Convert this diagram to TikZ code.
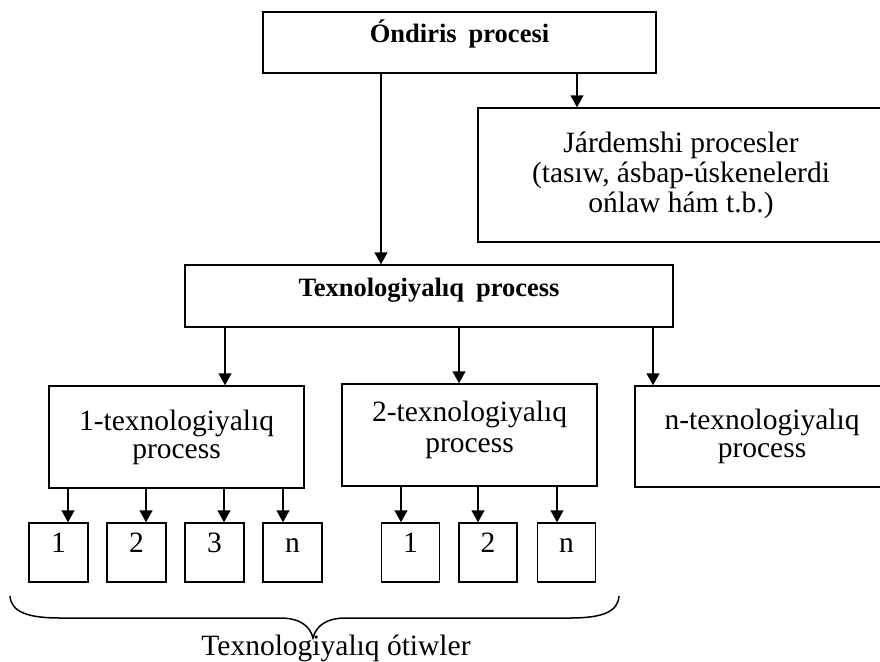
\documentclass[tikz,border=0pt]{standalone}
\usepackage{fontspec}
\setmainfont{Liberation Serif}
\usetikzlibrary{arrows.meta}
\tikzset{
  box/.style={draw, line width=1.5pt, rectangle, inner sep=0pt},
  bt/.style={font=\fontsize{26.5}{28}\selectfont\bfseries, text height=12pt, text depth=12pt},
  rt/.style={font=\fontsize{29.5}{29}\selectfont, align=center},
  nt/.style={font=\fontsize{29.5}{29}\selectfont, text height=10pt, text depth=10pt},
  arr/.style={line width=1.5pt, -{Triangle[length=12pt,width=13pt]}},
  brc/.style={line width=1.5pt}
}
\begin{document}
\begin{tikzpicture}[x=1pt,y=-1pt]
\useasboundingbox (0,0) rectangle (880,661);
% main boxes
\node[box, bt, minimum width=393pt, minimum height=61pt] (top) at (459.5,42.5) {Óndiris\hspace{12pt}procesi};
\node[box, rt, minimum width=406pt, minimum height=134pt, font=\fontsize{29.5}{30}\selectfont] (jard) at (681,175)
  {Járdemshi procesler\\(tasıw, ásbap-úskenelerdi\\ońlaw hám t.b.)};
\node[box, bt, minimum width=488pt, minimum height=62pt] (tech) at (429,296) {Texnologiyalıq\hspace{12pt}process};
\node[box, rt, minimum width=255pt, minimum height=102pt, font=\fontsize{29.5}{28}\selectfont] (p1) at (176.5,437) {1-texnologiyalıq\\process};
\node[box, rt, minimum width=255pt, minimum height=102pt, font=\fontsize{29.5}{31}\selectfont, text depth=17pt] (p2) at (469.5,435) {2-texnologiyalıq\\process};
\node[box, rt, minimum width=254pt, minimum height=101pt, font=\fontsize{29.5}{28}\selectfont] (pn) at (762,436.5) {n-texnologiyalıq\\process};
% small boxes
\node[box, nt, minimum width=59pt, minimum height=59pt] (s11) at (58.5,552.5) {1};
\node[box, nt, minimum width=59pt, minimum height=59pt] (s12) at (136.5,552.5) {2};
\node[box, nt, minimum width=59pt, minimum height=59pt] (s13) at (214.5,552.5) {3};
\node[box, nt, minimum width=59pt, minimum height=59pt] (s14) at (292.5,552.5) {n};
\node[box, nt, minimum width=58pt, minimum height=59pt] (s21) at (410.5,552.5) {1};
\node[box, nt, minimum width=58pt, minimum height=59pt] (s22) at (488,552.5) {2};
\node[box, nt, minimum width=58pt, minimum height=59pt] (s23) at (566.5,552.5) {n};
% connector x positions
\coordinate (xa) at (381,0);
\coordinate (xb) at (577,0);
\coordinate (xc) at (225,0);
\coordinate (xd) at (459,0);
\coordinate (xe) at (653,0);
\coordinate (x11) at (68,0);
\coordinate (x12) at (146,0);
\coordinate (x13) at (224,0);
\coordinate (x14) at (283,0);
\coordinate (x21) at (401,0);
\coordinate (x22) at (478,0);
\coordinate (x23) at (557,0);
% connectors
\draw[arr] (top.south -| xa) -- (tech.north -| xa);
\draw[arr] (top.south -| xb) -- (jard.north -| xb);
\draw[arr] (tech.south -| xc) -- (p1.north -| xc);
\draw[arr] (tech.south -| xd) -- (p2.north -| xd);
\draw[arr] (tech.south -| xe) -- (pn.north -| xe);
\draw[arr] (p1.south -| x11) -- (s11.north -| x11);
\draw[arr] (p1.south -| x12) -- (s12.north -| x12);
\draw[arr] (p1.south -| x13) -- (s13.north -| x13);
\draw[arr] (p1.south -| x14) -- (s14.north -| x14);
\draw[arr] (p2.south -| x21) -- (s21.north -| x21);
\draw[arr] (p2.south -| x22) -- (s22.north -| x22);
\draw[arr] (p2.south -| x23) -- (s23.north -| x23);
% brace
\draw[brc] (10,596) .. controls (11,612) and (28,618) .. (60,618) -- (280,618)
  .. controls (300,618) and (310,626) .. (313,638)
  .. controls (316,626) and (326,618) .. (346,618) -- (570,618)
  .. controls (602,618) and (618,612) .. (619,596);
\node[font=\fontsize{29.5}{29}\selectfont, anchor=base] (lbl) at (336,655) {Texnologiyalıq ótiwler};
\end{tikzpicture}
\end{document}
